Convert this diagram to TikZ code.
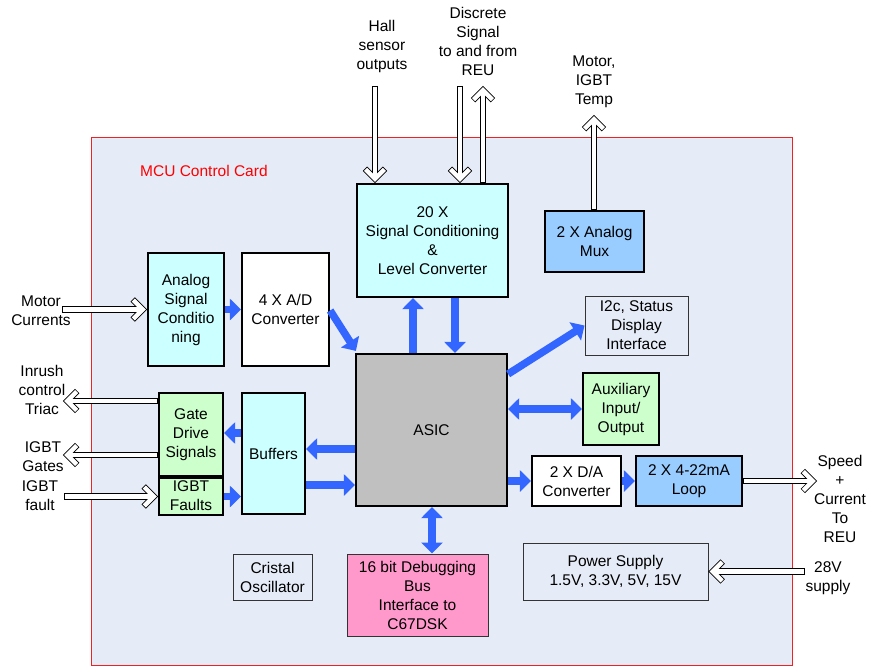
\documentclass[tikz,border=0pt]{standalone}
\usepackage{fontspec}
\setmainfont{Liberation Sans}
\usetikzlibrary{arrows.meta,calc}
\definecolor{bgcard}{HTML}{E6ECF7}
\definecolor{cardred}{HTML}{EE2222}
\definecolor{cyanfill}{HTML}{CCFFFF}
\definecolor{greenfill}{HTML}{CCFFCC}
\definecolor{bluefill}{HTML}{99CCFF}
\definecolor{pinkfill}{HTML}{FF99CC}
\definecolor{grayfill}{HTML}{C0C0C0}
\definecolor{arrowblue}{HTML}{3366FF}
\definecolor{thinline}{HTML}{333333}
% hollow (outlined) arrow from #1 to #2
\newcommand\hollowarr[2]{%
  \coordinate (hT) at ($(#2)!4.2pt!(#1)$);
  \coordinate (hC) at ($(hT)!10pt!(#1)$);
  \coordinate (hL) at ($(hC)!10pt!90:(hT)$);
  \coordinate (hR) at ($(hC)!10pt!-90:(hT)$);
  \coordinate (hS) at ($(#1)!0.8pt!(#2)$);
  \draw[hollowout] (#1) -- (hT);
  \draw[hollowout] (hL) -- (hT) -- (hR);
  \draw[hollowin, shorten <=0.8pt, shorten >=0.8pt] (hL) -- (hT) -- (hR);
  \draw[hollowin] (hS) -- (hT);
}
\begin{document}
\begin{tikzpicture}[x=1pt,y=-1pt,
  every node/.style={font=\fontsize{15.5}{19}\selectfont, align=center, inner sep=0pt},
  thickbox/.style={draw=black, line width=2.2pt, rectangle},
  thinbox/.style={draw=thinline, line width=1pt, rectangle, fill=bgcard},
  bluearrow/.style={draw=arrowblue, line width=7.5pt, -{Triangle[length=11pt,width=21pt]}},
  bluedouble/.style={draw=arrowblue, line width=7.5pt, {Triangle[length=11pt,width=21pt]}-{Triangle[length=11pt,width=21pt]}},
  hollowout/.style={draw=black, line width=6.1pt, miter limit=10},
  hollowin/.style={draw=white, line width=4.5pt, miter limit=10}
]
\useasboundingbox (0,0) rectangle (870,666);
\fill[white] (0,0) rectangle (870,666);
\draw[cardred, fill=bgcard, line width=0.8pt] (91,137) rectangle (792,665);
\node[anchor=west, text=red] (title) at (140,171) {MCU Control Card};

% boxes
\node[thickbox, fill=cyanfill, minimum width=151pt, minimum height=113pt] (sigc) at (432.5,240.5) {20 X\\Signal Conditioning\\\&\\Level Converter};
\node[thickbox, fill=bluefill, minimum width=99pt, minimum height=61pt] (mux) at (594.5,241.5) {2 X Analog\\Mux};
\node[thickbox, fill=cyanfill, minimum width=76pt, minimum height=113pt] (asc) at (186,309.5) {Analog\\Signal\\Conditio\\ning};
\node[thickbox, fill=white, minimum width=87pt, minimum height=113pt] (adc) at (285.5,309.5) {4 X A/D\\Converter};
\node[thickbox, fill=grayfill, minimum width=151pt, minimum height=152pt] (asic) at (431.5,430) {ASIC};
\node[thinbox, minimum width=103pt, minimum height=59pt] (i2c) at (636.5,325.5) {I2c, Status\\Display\\Interface};
\node[thickbox, fill=greenfill, minimum width=76pt, minimum height=72pt] (aux) at (621,409) {Auxiliary\\Input/\\Output};
\node[thickbox, fill=white, minimum width=89pt, minimum height=50pt] (dac) at (576.5,481) {2 X D/A\\Converter};
\node[thickbox, fill=bluefill, minimum width=106pt, minimum height=50pt] (loop) at (689,481) {2 X 4-22mA\\Loop};
\node[thickbox, fill=greenfill, minimum width=64pt, minimum height=83pt] (gate) at (191,434.5) {Gate\\Drive\\Signals};
\node[thickbox, fill=greenfill, minimum width=64pt, minimum height=37pt] (faults) at (191,496.5) {};
\node (faultsTxt) at (191,495.5) {IGBT\\Faults};
\node[thickbox, fill=cyanfill, minimum width=63pt, minimum height=121pt] (buf) at (273.5,453.5) {Buffers};
\node[thinbox, minimum width=79pt, minimum height=46pt] (osc) at (272.5,577) {Cristal\\Oscillator};
\node[thinbox, fill=pinkfill, minimum width=141pt, minimum height=82pt] (dbg) at (417.5,595) {16 bit Debugging\\Bus\\Interface to\\C67DSK};
\node[thinbox, minimum width=185pt, minimum height=57pt] (psu) at (615.5,571.5) {Power Supply\\1.5V, 3.3V, 5V, 15V};

% outside labels
\node (hallTxt) at (382,46) {Hall\\sensor\\outputs};
\node (discTxt) at (478,41.5) {Discrete\\Signal\\to and from\\REU};
\node (tempTxt) at (594,82) {Motor,\\IGBT\\Temp};
\node (motTxt) at (41,311) {Motor\\Currents};
\node (inrTxt) at (42,390) {Inrush\\control\\Triac};
\node (gatesTxt) at (43,457) {IGBT\\Gates};
\node (faultTxt) at (40,495.5) {IGBT\\fault};
\node (speedTxt) at (840,499) {Speed\\+\\Current\\To\\REU};
\node (supTxt) at (828,578) {28V\\supply};

% free ends of hollow arrows
\coordinate (hallEnd) at (375,86);
\coordinate (discIn) at (460,86);
\coordinate (discOut) at (483,86);
\coordinate (tempEnd) at (594,115);
\coordinate (motEnd) at (62,309.5);
\coordinate (inrEnd) at (63,401);
\coordinate (gatesEnd) at (63,455);
\coordinate (faultEnd) at (64,496.5);
\coordinate (speedEnd) at (817,481);
\coordinate (supEnd) at (805,571.5);
% box-side ends of hollow arrows
\coordinate (hallTip) at (hallEnd |- sigc.north);
\coordinate (discInTip) at (discIn |- sigc.north);
\coordinate (discOutStart) at (discOut |- sigc.north);
\coordinate (tempStart) at (tempEnd |- mux.north);
\coordinate (inrStart) at (gate.west |- inrEnd);
\coordinate (gatesStart) at (gate.west |- gatesEnd);

% hollow arrows
\hollowarr{hallEnd}{hallTip}
\hollowarr{discIn}{discInTip}
\hollowarr{discOutStart}{discOut}
\hollowarr{tempStart}{tempEnd}
\hollowarr{motEnd}{asc.west}
\hollowarr{inrStart}{inrEnd}
\hollowarr{gatesStart}{gatesEnd}
\hollowarr{faultEnd}{faults.west}
\hollowarr{loop.east}{speedEnd}
\hollowarr{supEnd}{psu.east}

% blue arrows
\draw[bluearrow] (asc.east) -- (adc.west);
\draw[bluearrow] ($(adc.east)+(0,1)$) -- ($(asic.north west)+(1,-2)$);
\draw[bluearrow] (413,0 |- asic.north) -- (413,0 |- sigc.south);
\draw[bluearrow] (455,0 |- sigc.south) -- (455,0 |- asic.north);
\draw[bluearrow] (asic.east |- 0,374) -- (i2c.west);
\draw[bluedouble] (asic.east |- aux.west) -- (aux.west);
\draw[bluearrow] (asic.east |- dac.west) -- (dac.west);
\draw[bluearrow] (dac.east) -- (loop.west);
\draw[bluearrow] (buf.west |- 0,433) -- (gate.east |- 0,433);
\draw[bluearrow] (asic.west |- 0,449) -- (buf.east |- 0,449);
\draw[bluearrow] (buf.east |- 0,485) -- (asic.west |- 0,485);
\draw[bluearrow] (faults.east) -- (buf.west |- faults.east);
\draw[bluedouble] (432,0 |- asic.south) -- (432,0 |- dbg.north);
\end{tikzpicture}
\end{document}
